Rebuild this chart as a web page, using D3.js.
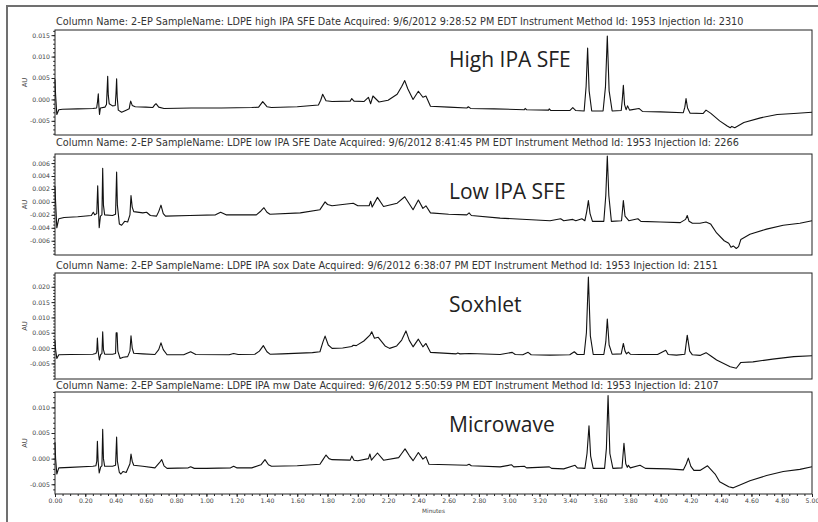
<!DOCTYPE html>
<html>
<head>
<meta charset="utf-8">
<script src="https://cdn.jsdelivr.net/npm/d3@7"></script>
<style>
  html, body { margin: 0; padding: 0; background: #fff; }
  svg { display: block; }
  .hdr { font-family: "DejaVu Sans", Verdana, sans-serif; font-size: 9.7px; fill: #333; }
  .ytick text, .xtick text { font-family: "DejaVu Sans", Verdana, sans-serif; font-size: 6.2px; fill: #444; }
  .big { font-family: "Open Sans", sans-serif; font-size: 21px; fill: #222; }
</style>
</head>
<body>
<svg id="chart" width="818" height="522"></svg>
<script>
// ---- data ----
const panelTitles = ["High IPA SFE", "Low IPA SFE", "Soxhlet", "Microwave"];
const sampleNames = ["LDPE high IPA SFE", "LDPE low IPA SFE", "LDPE IPA sox", "LDPE IPA mw"];
const acquiredTimes = ["9:28:52 PM", "8:41:45 PM", "6:38:07 PM", "5:50:59 PM"];
const injectionIds = ["2310", "2266", "2151", "2107"];

const yDomains = [[-0.0083, 0.0162], [-0.0082, 0.0074], [-0.0101, 0.0245], [-0.0069, 0.0130]];
const yTickLabels = [
  [-0.005, 0.000, 0.005, 0.010, 0.015],
  [-0.006, -0.004, -0.002, 0.000, 0.002, 0.004, 0.006],
  [-0.005, 0.000, 0.005, 0.010, 0.015, 0.020],
  [-0.005, 0.000, 0.005, 0.010]
];
const yMinorSteps = [0.001, 0.0005, 0.001, 0.001];
const xTickLabels = d3.range(0, 26).map(i => i * 0.2);   // 0.00 .. 5.00 minutes
const xMinorTicks = d3.range(0, 101).map(i => i * 0.05);

// [minutes, AU]
const traceHigh = [
  [0.000, 0.0047], [0.004, 0.0010], [0.012, -0.0035], [0.025, -0.0024], [0.050, -0.0023],
  [0.150, -0.0022], [0.250, -0.0021], [0.275, -0.0020], [0.281, -0.0005], [0.286, 0.0013],
  [0.290, -0.0015], [0.294, -0.0035], [0.300, -0.0020], [0.330, -0.0018], [0.340, -0.0012],
  [0.344, 0.0020], [0.348, 0.0054], [0.352, 0.0010], [0.358, -0.0010], [0.380, -0.0015],
  [0.398, -0.0014], [0.403, 0.0015], [0.407, 0.0048], [0.411, 0.0005], [0.418, -0.0025],
  [0.440, -0.0030], [0.470, -0.0025], [0.490, -0.0022], [0.496, -0.0010], [0.500, -0.0004],
  [0.510, -0.0014], [0.530, -0.0017], [0.600, -0.0018], [0.645, -0.0019], [0.660, -0.0012],
  [0.667, -0.0010], [0.685, -0.0018], [0.720, -0.0021], [0.900, -0.0020], [1.100, -0.0020],
  [1.300, -0.0019], [1.345, -0.0018], [1.372, -0.0005], [1.400, -0.0017], [1.430, -0.0019],
  [1.600, -0.0017], [1.740, -0.0013], [1.755, -0.0002], [1.768, 0.0012], [1.790, -0.0003],
  [1.830, -0.0005], [1.950, -0.0004], [1.960, 0.0002], [1.975, -0.0004], [2.040, -0.0005],
  [2.070, 0.0005], [2.085, -0.0010], [2.100, 0.0008], [2.140, -0.0006], [2.200, -0.0002],
  [2.260, 0.0012], [2.290, 0.0030], [2.310, 0.0044], [2.330, 0.0025], [2.365, 0.0000],
  [2.400, 0.0019], [2.430, 0.0005], [2.450, 0.0008], [2.480, -0.0016], [2.600, -0.0018],
  [2.720, -0.0020], [2.730, -0.0017], [2.745, -0.0021], [2.900, -0.0022], [3.100, -0.0024],
  [3.105, -0.0021], [3.115, -0.0024], [3.260, -0.0025], [3.265, -0.0022], [3.275, -0.0026],
  [3.400, -0.0026], [3.420, -0.0019], [3.440, -0.0026], [3.495, -0.0027], [3.508, 0.0030],
  [3.518, 0.0120], [3.528, 0.0020], [3.545, -0.0027], [3.620, -0.0027], [3.636, 0.0030],
  [3.648, 0.0148], [3.660, 0.0020], [3.680, -0.0027], [3.740, -0.0026], [3.747, 0.0000],
  [3.754, 0.0033], [3.762, -0.0012], [3.772, -0.0024], [3.782, -0.0015], [3.795, -0.0025],
  [3.857, -0.0021], [3.880, -0.0028], [4.000, -0.0029], [4.150, -0.0031], [4.160, -0.0018],
  [4.168, 0.0002], [4.178, -0.0020], [4.195, -0.0032], [4.280, -0.0033], [4.300, -0.0025],
  [4.330, -0.0032], [4.390, -0.0050], [4.440, -0.0062], [4.460, -0.0066], [4.470, -0.0063],
  [4.490, -0.0066], [4.510, -0.0062], [4.550, -0.0054], [4.660, -0.0043], [4.770, -0.0035],
  [4.880, -0.0033], [5.000, -0.0030]
];
const traceLow = [
  [0.000, 0.0024], [0.004, 0.0000], [0.012, -0.0040], [0.025, -0.0026], [0.060, -0.0024],
  [0.150, -0.0023], [0.240, -0.0021], [0.253, -0.0016], [0.262, -0.0020], [0.276, -0.0018],
  [0.282, 0.0025], [0.287, -0.0010], [0.292, -0.0040], [0.300, -0.0022], [0.310, -0.0020],
  [0.315, 0.0052], [0.320, -0.0005], [0.328, -0.0020], [0.380, -0.0021], [0.400, -0.0019],
  [0.407, 0.0046], [0.412, -0.0005], [0.425, -0.0034], [0.440, -0.0036], [0.460, -0.0030],
  [0.480, -0.0031], [0.495, -0.0020], [0.502, 0.0010], [0.510, -0.0008], [0.520, -0.0015],
  [0.580, -0.0017], [0.605, -0.0016], [0.630, -0.0021], [0.670, -0.0022], [0.685, -0.0015],
  [0.700, -0.0005], [0.715, -0.0018], [0.730, -0.0022], [0.890, -0.0021], [1.060, -0.0020],
  [1.094, -0.0016], [1.130, -0.0020], [1.330, -0.0020], [1.360, -0.0014], [1.380, -0.0009],
  [1.400, -0.0016], [1.420, -0.0019], [1.620, -0.0017], [1.750, -0.0012], [1.770, -0.0005],
  [1.784, 0.0000], [1.800, -0.0004], [1.830, -0.0006], [1.900, -0.0004], [1.970, -0.0002],
  [2.000, -0.0006], [2.075, -0.0006], [2.085, 0.0001], [2.095, -0.0008], [2.130, 0.0007],
  [2.170, -0.0007], [2.260, -0.0002], [2.310, 0.0008], [2.365, -0.0012], [2.400, 0.0003],
  [2.430, -0.0010], [2.450, -0.0006], [2.480, -0.0017], [2.600, -0.0019], [2.720, -0.0020],
  [2.735, -0.0017], [2.750, -0.0021], [2.940, -0.0025], [3.270, -0.0029], [3.340, -0.0026],
  [3.360, -0.0029], [3.420, -0.0027], [3.440, -0.0029], [3.480, -0.0026], [3.500, -0.0029],
  [3.512, -0.0015], [3.523, 0.0002], [3.534, -0.0018], [3.550, -0.0030], [3.625, -0.0030],
  [3.638, 0.0010], [3.648, 0.0071], [3.658, 0.0010], [3.675, -0.0030], [3.742, -0.0029],
  [3.754, 0.0002], [3.765, -0.0022], [3.790, -0.0029], [3.850, -0.0026], [3.870, -0.0030],
  [4.000, -0.0031], [4.130, -0.0032], [4.165, -0.0027], [4.176, -0.0021], [4.188, -0.0030],
  [4.210, -0.0033], [4.260, -0.0033], [4.300, -0.0031], [4.330, -0.0034], [4.370, -0.0048],
  [4.420, -0.0060], [4.450, -0.0064], [4.465, -0.0070], [4.480, -0.0068], [4.500, -0.0072],
  [4.515, -0.0069], [4.530, -0.0058], [4.590, -0.0050], [4.700, -0.0042], [4.810, -0.0036],
  [4.920, -0.0033], [5.000, -0.0029]
];
const traceSox = [
  [0.000, 0.0026], [0.004, -0.0005], [0.012, -0.0034], [0.025, -0.0022], [0.100, -0.0021],
  [0.250, -0.0020], [0.270, -0.0018], [0.276, -0.0010], [0.280, 0.0033], [0.285, -0.0010],
  [0.293, -0.0039], [0.302, -0.0021], [0.310, -0.0018], [0.315, 0.0053], [0.320, -0.0005],
  [0.328, -0.0020], [0.380, -0.0020], [0.400, -0.0018], [0.404, 0.0050], [0.410, 0.0050],
  [0.415, -0.0010], [0.430, -0.0034], [0.450, -0.0030], [0.480, -0.0028], [0.495, -0.0010],
  [0.502, 0.0040], [0.510, 0.0000], [0.520, -0.0017], [0.580, -0.0019], [0.660, -0.0021],
  [0.685, -0.0005], [0.700, 0.0017], [0.715, -0.0005], [0.740, -0.0022], [0.850, -0.0022],
  [0.896, -0.0012], [0.930, -0.0021], [1.150, -0.0022], [1.180, -0.0018], [1.210, -0.0021],
  [1.320, -0.0020], [1.350, -0.0010], [1.376, 0.0008], [1.400, -0.0012], [1.420, -0.0020],
  [1.500, -0.0019], [1.700, -0.0015], [1.750, -0.0012], [1.770, 0.0020], [1.784, 0.0039],
  [1.805, 0.0010], [1.830, -0.0001], [1.900, 0.0000], [1.960, 0.0005], [1.970, 0.0009],
  [1.990, 0.0008], [2.040, 0.0023], [2.080, 0.0042], [2.092, 0.0053], [2.110, 0.0032],
  [2.135, 0.0035], [2.180, 0.0007], [2.210, -0.0001], [2.257, 0.0007], [2.290, 0.0026],
  [2.318, 0.0056], [2.340, 0.0025], [2.365, 0.0004], [2.400, 0.0029], [2.430, 0.0004],
  [2.450, 0.0015], [2.480, -0.0014], [2.650, -0.0019], [2.660, -0.0016], [2.675, -0.0019],
  [2.740, -0.0018], [2.940, -0.0021], [3.020, -0.0014], [3.040, -0.0021], [3.090, -0.0022],
  [3.125, -0.0014], [3.145, -0.0022], [3.270, -0.0023], [3.400, -0.0022], [3.430, -0.0012],
  [3.450, -0.0021], [3.495, -0.0021], [3.510, 0.0050], [3.523, 0.0232], [3.536, 0.0040],
  [3.555, -0.0021], [3.625, -0.0021], [3.638, 0.0020], [3.648, 0.0095], [3.660, 0.0010],
  [3.680, -0.0020], [3.740, -0.0019], [3.754, 0.0015], [3.765, -0.0010], [3.775, -0.0019],
  [3.787, -0.0013], [3.800, -0.0020], [3.860, -0.0021], [3.980, -0.0021], [4.034, -0.0007],
  [4.050, -0.0021], [4.105, -0.0023], [4.160, -0.0020], [4.176, 0.0042], [4.192, -0.0010],
  [4.210, -0.0022], [4.260, -0.0024], [4.300, -0.0015], [4.330, -0.0025], [4.370, -0.0039],
  [4.460, -0.0061], [4.500, -0.0066], [4.530, -0.0047], [4.610, -0.0045], [4.740, -0.0036],
  [4.880, -0.0028], [5.000, -0.0025]
];
const traceMw = [
  [0.000, 0.0032], [0.004, 0.0000], [0.012, -0.0030], [0.025, -0.0018], [0.100, -0.0017],
  [0.250, -0.0015], [0.270, -0.0014], [0.276, -0.0005], [0.280, 0.0034], [0.285, -0.0005],
  [0.292, -0.0028], [0.302, -0.0016], [0.310, -0.0014], [0.315, 0.0057], [0.320, 0.0000],
  [0.328, -0.0015], [0.380, -0.0015], [0.400, -0.0013], [0.407, 0.0042], [0.412, -0.0005],
  [0.425, -0.0027], [0.435, -0.0030], [0.450, -0.0025], [0.470, -0.0027], [0.495, -0.0010],
  [0.502, 0.0009], [0.510, -0.0005], [0.520, -0.0013], [0.580, -0.0015], [0.660, -0.0018],
  [0.690, -0.0008], [0.705, -0.0002], [0.720, -0.0014], [0.740, -0.0019], [0.880, -0.0018],
  [0.896, -0.0016], [0.920, -0.0019], [1.000, -0.0019], [1.160, -0.0018], [1.180, -0.0015],
  [1.200, -0.0018], [1.300, -0.0018], [1.360, -0.0012], [1.387, -0.0002], [1.410, -0.0012],
  [1.430, -0.0015], [1.600, -0.0014], [1.750, -0.0011], [1.770, -0.0002], [1.790, 0.0007],
  [1.810, 0.0000], [1.830, -0.0002], [1.950, -0.0003], [1.960, 0.0005], [1.975, -0.0003],
  [2.000, -0.0004], [2.070, 0.0000], [2.080, 0.0009], [2.090, -0.0003], [2.130, 0.0011],
  [2.170, -0.0003], [2.270, 0.0002], [2.290, 0.0010], [2.312, 0.0019], [2.340, 0.0006],
  [2.365, -0.0004], [2.400, 0.0012], [2.430, -0.0001], [2.450, 0.0004], [2.470, -0.0011],
  [2.600, -0.0012], [2.720, -0.0013], [2.735, -0.0011], [2.750, -0.0014], [2.940, -0.0016],
  [3.016, -0.0012], [3.030, -0.0016], [3.100, -0.0015], [3.115, -0.0018], [3.265, -0.0016],
  [3.280, -0.0019], [3.360, -0.0020], [3.435, -0.0013], [3.450, -0.0018], [3.500, -0.0019],
  [3.514, 0.0010], [3.527, 0.0064], [3.538, 0.0005], [3.555, -0.0019], [3.630, -0.0019],
  [3.642, 0.0020], [3.653, 0.0123], [3.665, 0.0010], [3.685, -0.0019], [3.745, -0.0018],
  [3.758, 0.0030], [3.770, -0.0010], [3.780, -0.0017], [3.787, -0.0013], [3.800, -0.0018],
  [3.864, -0.0013], [3.900, -0.0019], [4.050, -0.0020], [4.150, -0.0022], [4.170, -0.0010],
  [4.183, 0.0001], [4.200, -0.0015], [4.220, -0.0023], [4.260, -0.0023], [4.310, -0.0014],
  [4.360, -0.0030], [4.390, -0.0045], [4.450, -0.0055], [4.480, -0.0057], [4.520, -0.0052],
  [4.590, -0.0043], [4.700, -0.0033], [4.810, -0.0025], [4.920, -0.0021], [5.000, -0.0016]
];
const traces = [traceHigh, traceLow, traceSox, traceMw];

// ---- layout ----
const svg = d3.select("#chart");
const plotLeft = 55, plotRight = 812;
const panelTop = [30, 154, 273, 392];
const panelBottom = [135, 255, 379, 494];
const headerOffset = [5, 8, 4, 3];
const titleOffset = [37, 45, 39, 40];

// grey frame that the screenshot was cropped from
svg.append("path")
  .attr("d", "M7,522 L7,6 L818,6")
  .attr("fill", "none")
  .attr("stroke", "#707070")
  .attr("stroke-width", 2);

const x = d3.scaleLinear().domain([0, 5]).range([plotLeft, plotRight]);
const fmtY = v => (Math.round(v * 1000) / 1000).toFixed(3);

traces.forEach((trace, i) => {
  const top = panelTop[i], bottom = panelBottom[i];
  const y = d3.scaleLinear().domain(yDomains[i]).range([bottom, top]);
  const g = svg.append("g").classed("panel", true);

  g.append("text")
    .attr("class", "hdr")
    .attr("x", plotLeft + 1)
    .attr("y", top - headerOffset[i])
    .text(`Column Name: 2-EP SampleName: ${sampleNames[i]} Date Acquired: 9/6/2012 ${acquiredTimes[i]} EDT Instrument Method Id: 1953 Injection Id: ${injectionIds[i]}`);

  // minor y ticks
  const minor = d3.range(Math.ceil(yDomains[i][0] / yMinorSteps[i]), Math.floor(yDomains[i][1] / yMinorSteps[i]) + 1)
    .map(k => k * yMinorSteps[i]);
  g.append("g")
    .attr("transform", `translate(${plotLeft},0)`)
    .attr("color", "#222")
    .call(d3.axisLeft(y).tickValues(minor).tickSize(1.8).tickFormat(""))
    .call(a => a.select(".domain").remove());

  g.append("g")
    .attr("class", "ytick")
    .attr("color", "#222")
    .attr("transform", `translate(${plotLeft},0)`)
    .call(d3.axisLeft(y).tickValues(yTickLabels[i]).tickSize(3.5).tickPadding(1.5).tickFormat(fmtY))
    .call(a => a.select(".domain").remove())
    .call(a => a.selectAll("text").attr("font-family", null).attr("font-size", null));

  g.append("text")
    .attr("transform", `translate(27,${(top + bottom) / 2}) rotate(-90)`)
    .attr("text-anchor", "middle")
    .attr("font-family", "DejaVu Sans, sans-serif")
    .attr("font-size", 6.8)
    .attr("fill", "#444")
    .text("AU");

  const line = d3.line().x(d => x(d[0])).y(d => y(d[1]));
  g.append("path")
    .datum(trace)
    .attr("d", line)
    .attr("fill", "none")
    .attr("stroke", "#111")
    .attr("stroke-width", 1.1)
    .attr("stroke-linejoin", "round");

  g.append("rect")
    .attr("x", plotLeft).attr("y", top)
    .attr("width", plotRight - plotLeft).attr("height", bottom - top)
    .attr("fill", "none")
    .attr("stroke", "#222")
    .attr("stroke-width", 1);

  g.append("text")
    .attr("class", "big")
    .attr("x", 449)
    .attr("y", top + titleOffset[i])
    .text(panelTitles[i]);

  if (i === traces.length - 1) {
    g.append("g")
      .attr("transform", `translate(0,${bottom})`)
      .attr("color", "#222")
      .call(d3.axisBottom(x).tickValues(xMinorTicks).tickSize(2).tickFormat(""))
      .call(a => a.select(".domain").remove());
    g.append("g")
      .attr("class", "xtick")
      .attr("color", "#222")
      .attr("transform", `translate(0,${bottom})`)
      .call(d3.axisBottom(x).tickValues(xTickLabels).tickSize(3).tickPadding(2).tickFormat(d => d.toFixed(2)))
      .call(a => a.select(".domain").remove())
      .call(a => a.selectAll("text").attr("font-family", null).attr("font-size", null));
    g.append("text")
      .attr("x", (plotLeft + plotRight) / 2)
      .attr("y", bottom + 19)
      .attr("text-anchor", "middle")
      .attr("font-family", "DejaVu Sans, sans-serif")
      .attr("font-size", 5.8)
      .attr("fill", "#444")
      .text("Minutes");
  }
});
</script>
</body>
</html>
